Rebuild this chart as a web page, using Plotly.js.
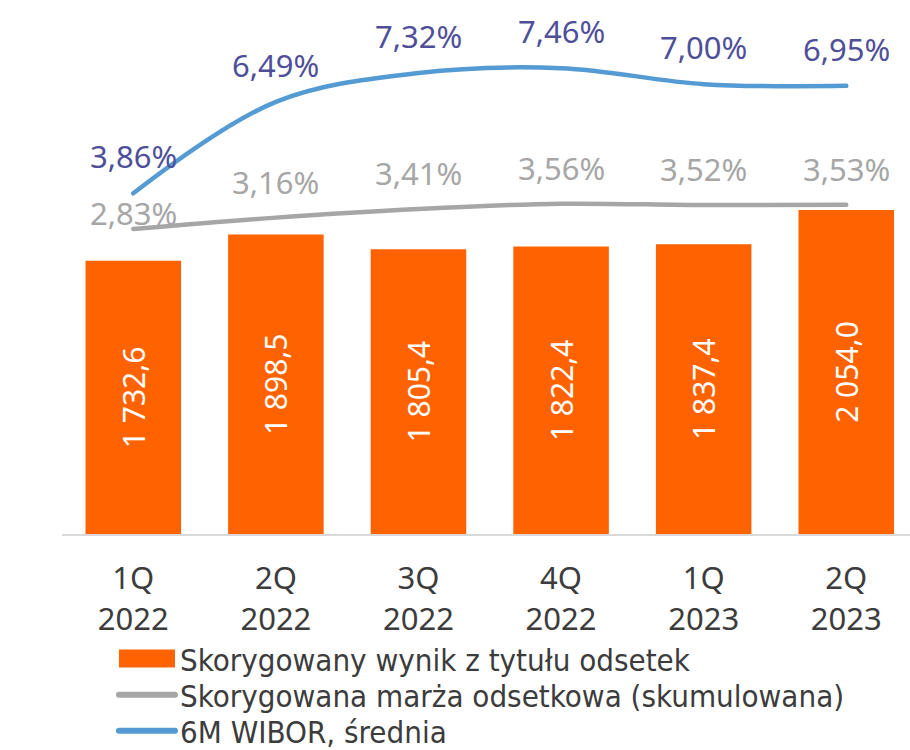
<!DOCTYPE html>
<html>
<head>
<meta charset="utf-8">
<script src="https://cdn.plot.ly/plotly-3.0.1.min.js"></script>
<style>
  html, body { margin: 0; padding: 0; background: #ffffff; }
  #chart { width: 910px; height: 750px; }
  .scatterlayer path.js-line { stroke-linecap: round; stroke-linejoin: round; }
  .legendlines path { stroke-width: 6px !important; stroke-linecap: round; }
</style>
</head>
<body>
<div id="chart"></div>
<script>
// ---- data ----
const categories = ["1Q<br>2022", "2Q<br>2022", "3Q<br>2022", "4Q<br>2022", "1Q<br>2023", "2Q<br>2023"];
const interestIncome = [1732.6, 1898.5, 1805.4, 1822.4, 1837.4, 2054.0];
const interestMargin = [2.83, 3.16, 3.41, 3.56, 3.52, 3.53];
const wibor6m = [3.86, 6.49, 7.32, 7.46, 7.00, 6.95];
const seriesNames = [
  "Skorygowany wynik z tytułu odsetek",
  "Skorygowana marża odsetkowa (skumulowana)",
  "6M WIBOR, średnia"
];

// ---- styles ----
const ORANGE = "#ff6200";
const GREY = "#a6a6a6";
const BLUE = "#559bd3";
const BLUE_TEXT = "#4f4f99";
const FONT = "Noto Sans, Open Sans, DejaVu Sans, sans-serif";
const LEGEND_FONT = "DejaVu Sans Condensed, Noto Sans, sans-serif";
const TEXT = "#3c3c3c";

const fmtPct = v => v.toFixed(2).replace(".", ",") + "%";

const traces = [
  {
    type: "bar",
    name: seriesNames[0],
    x: categories,
    y: interestIncome,
    marker: { color: ORANGE },
    texttemplate: "%{y:,.1f}",
    textposition: "inside",
    insidetextanchor: "middle",
    textangle: -90,
    textfont: { family: FONT, size: 30, color: "#ffffff" },
    legend: "legend",
    hoverinfo: "skip"
  },
  {
    type: "scatter",
    mode: "lines",
    name: seriesNames[1],
    x: categories,
    y: interestMargin,
    yaxis: "y2",
    line: { color: GREY, width: 4.5, shape: "spline", smoothing: 1 },
    legend: "legend2",
    hoverinfo: "skip"
  },
  {
    type: "scatter",
    mode: "lines",
    name: seriesNames[2],
    x: categories,
    y: wibor6m,
    yaxis: "y2",
    line: { color: BLUE, width: 4.5, shape: "spline", smoothing: 1 },
    legend: "legend3",
    hoverinfo: "skip"
  }
];

const annotations = [];
categories.forEach((c, i) => {
  annotations.push({
    x: c, y: wibor6m[i], xref: "x", yref: "y2",
    text: fmtPct(wibor6m[i]), showarrow: false,
    yshift: 37, font: { family: FONT, size: 31, color: BLUE_TEXT }
  });
  annotations.push({
    x: c, y: interestMargin[i], xref: "x", yref: "y2",
    text: fmtPct(interestMargin[i]), showarrow: false,
    yshift: i === 0 ? 16 : 36, font: { family: FONT, size: 31, color: GREY }
  });
});

function legendBox(yPaper) {
  return {
    orientation: "v",
    x: 0.0613,
    xanchor: "left",
    y: yPaper,
    yanchor: "middle",
    font: { family: LEGEND_FONT, size: 31, color: TEXT },
    bgcolor: "rgba(0,0,0,0)",
    itemwidth: 56
  };
}

const layout = {
  width: 910,
  height: 750,
  margin: { l: 62, r: 0, t: 0, b: 216, pad: 0, autoexpand: false },
  paper_bgcolor: "#ffffff",
  plot_bgcolor: "#ffffff",
  separators: ", ",
  bargap: 0.33,
  showlegend: true,
  font: { family: FONT, color: TEXT },
  xaxis: {
    type: "category",
    range: [-0.5, 5.447],
    showline: true,
    linecolor: "#d9d9d9",
    linewidth: 2,
    ticks: "",
    showgrid: false,
    zeroline: false,
    automargin: false,
    tickfont: { family: FONT, size: 31, color: TEXT },
    ticklabelstandoff: 16,
    fixedrange: true
  },
  yaxis: {
    range: [0, 3386],
    visible: false,
    showgrid: false,
    zeroline: false,
    fixedrange: true
  },
  yaxis2: {
    range: [-5.94, 9.42],
    overlaying: "y",
    side: "right",
    visible: false,
    showgrid: false,
    zeroline: false,
    fixedrange: true
  },
  legend: legendBox(-0.234),
  legend2: legendBox(-0.3015),
  legend3: legendBox(-0.369),
  annotations: annotations
};

Plotly.newPlot("chart", traces, layout, { displayModeBar: false, staticPlot: true }).then(gd => {
  // widen the bar legend swatch to a rectangle spanning the line swatches
  const linePath = gd.querySelector(".legendlines path");
  let barPath = null;
  gd.querySelectorAll(".legendpoints path").forEach(p => {
    const f = window.getComputedStyle(p).fill;
    if (f === "rgb(255, 98, 0)") barPath = p;
  });
  if (linePath && barPath) {
    const lr = linePath.getBoundingClientRect();
    const br = barPath.getBoundingClientRect();
    const bb = barPath.getBBox();
    const dx = br.left - bb.x;
    const dy = br.top - bb.y;
    const x0 = lr.left - dx, x1 = lr.right - dx;
    const cy = (br.top + br.bottom) / 2 - dy;
    barPath.setAttribute("d", `M${x0},${cy - 9}H${x1}V${cy + 9}H${x0}Z`);
  }
});
</script>
</body>
</html>
